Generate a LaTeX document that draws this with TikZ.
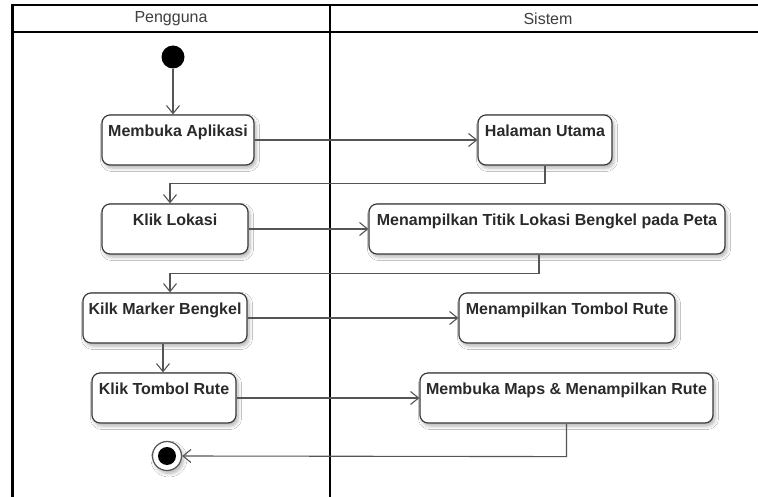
\documentclass[tikz,border=0pt]{standalone}
\usepackage{fontspec}
\setmainfont{Liberation Sans}
\usetikzlibrary{arrows.meta,shadows.blur}

\definecolor{linegray}{HTML}{555555}
\definecolor{boxline}{HTML}{3A3A3A}
\definecolor{inkdark}{HTML}{2A2A2A}

\tikzset{
  lane/.style={line width=2.4pt, draw=black},
  laneline/.style={line width=1.8pt, draw=black},
  lanetitle/.style={font=\fontsize{16}{17}\selectfont, text=inkdark!90},
  action/.style={draw=boxline, line width=1.2pt, rounded corners=8pt, fill=white,
    font=\bfseries\fontsize{16}{17}\selectfont, text=inkdark,
    text height=16pt, text depth=23pt, inner ysep=5.5pt, inner xsep=0pt,
    blur shadow={shadow xshift=2pt, shadow yshift=-3pt, shadow blur steps=6,
      shadow blur radius=3.5pt, shadow opacity=30}},
  flow/.style={draw=linegray, line width=1.1pt,
    -{Straight Barb[length=8pt, width=13pt, line width=1.1pt]}},
  startnode/.style={circle, fill=black, minimum size=23pt, inner sep=0pt},
  endring/.style={circle, draw=linegray, line width=1.2pt, fill=white,
    minimum size=29pt, inner sep=0pt,
    blur shadow={shadow xshift=2pt, shadow yshift=-3pt, shadow blur steps=6,
      shadow blur radius=3.5pt, shadow opacity=30}},
  enddot/.style={circle, fill=black, minimum size=18pt, inner sep=0pt}
}

\begin{document}
\begin{tikzpicture}[x=1pt, y=-1pt]
  \useasboundingbox (0,0) rectangle (758,497);
  \fill[white] (0,0) rectangle (758,497);
  \clip (0,0) rectangle (758,497);

  % swimlane frame
  \draw[lane] (12.5,5) rectangle (770,510);
  \draw[laneline] (12.5,32) -- (770,32);
  \draw[lane] (330,5) -- (330,510);
  \node[lanetitle] (hpengguna) at (171,19) {Pengguna};
  \node[lanetitle] (hsistem) at (548,19) {Sistem};

  % activities
  \node[startnode] (start) at (173,57) {};

  \node[action, minimum width=152pt] (ma)  at (178,140) {Membuka Aplikasi};
  \node[action, minimum width=134pt] (hu)  at (545,140) {Halaman Utama};
  \node[action, minimum width=146pt] (kl)  at (175,229) {Klik Lokasi};
  \node[action, minimum width=356pt] (mt)  at (547,229) {Menampilkan Titik Lokasi Bengkel pada Peta};
  \node[action, minimum width=164pt] (km)  at (165,318) {Kilk Marker Bengkel};
  \node[action, minimum width=216pt] (mtr) at (567,318) {Menampilkan Tombol Rute};
  \node[action, minimum width=144pt] (ktr) at (164,398) {Klik Tombol Rute};
  \node[action, minimum width=293pt] (mm)  at (566.5,398) {Membuka Maps \& Menampilkan Rute};

  \node[endring] (finish) at (167,456) {};
  \node[enddot] (finishdot) at (finish) {};

  % control flow
  \draw[flow] (start) -- (start |- ma.north);
  \draw[flow] (ma.east) -- (hu.west);
  \draw[flow] (hu.south) -- ++(0,18) -| ([xshift=-5pt]kl.north);
  \draw[flow] (kl.east) -- (mt.west);
  \draw[flow] ([xshift=-8pt]mt.south) -- ++(0,19) -| ([xshift=5pt]km.north);
  \draw[flow] (km.east) -- (mtr.west);
  \draw[flow] ([xshift=-2pt]km.south) -- ([xshift=-1pt]ktr.north);
  \draw[flow] (ktr.east) -- (mm.west);
  \draw[flow] (mm.south) -- ++(0,33) -- (finish.east);
\end{tikzpicture}
\end{document}
